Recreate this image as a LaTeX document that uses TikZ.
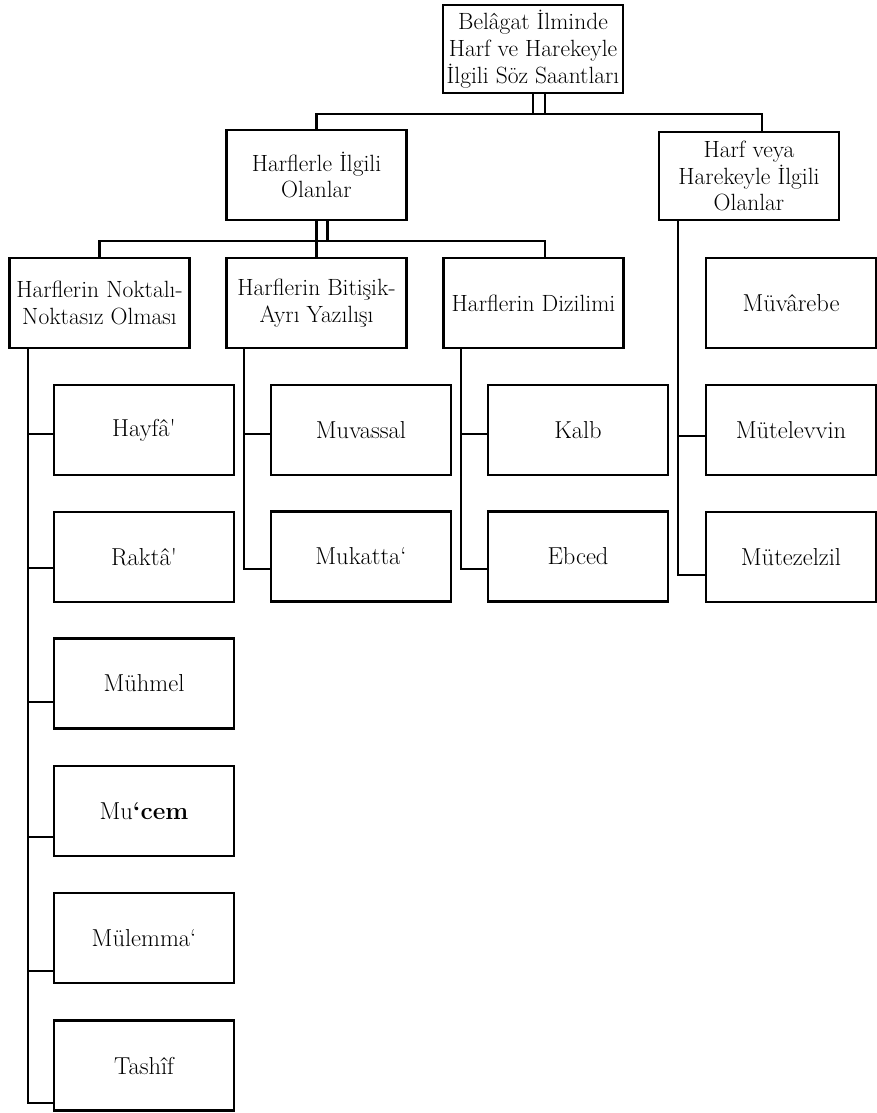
\documentclass[tikz,border=0pt]{standalone}
\usepackage{tikz}
\usetikzlibrary{positioning,calc}

\begin{document}
\begin{tikzpicture}[
    x=1pt, y=-1pt,
    box/.style={draw, line width=2.2pt, minimum width=180pt, minimum height=90pt, inner sep=1pt, align=center, fill=white, font=\fontsize{23.5}{26.8}\selectfont},
    leaf/.style={box, font=\fontsize{24.5}{27}\selectfont},
    rleaf/.style={leaf, minimum width=170pt},
    link/.style={line width=2.2pt}
]
\useasboundingbox (0,0) rectangle (877,1113);

% ===== ROOT =====
\node[box, minimum height=88pt] (root) at (533, 49) {Belâgat İlminde\\Harf ve Harekeyle\\İlgili Söz Saantları};

% ===== LEVEL 2 =====
\node[box] (harf) at (316.5, 175) {Harflerle İlgili\\Olanlar};
\node[box, minimum height=88pt] (hareke) at (749, 176) {Harf veya\\Harekeyle İlgili\\Olanlar};

% ===== LEVEL 3 =====
\node[box] (nokta) at (99.5, 303) {Harflerin Noktalı-\\Noktasız Olması};
\node[box] (bitisik) at (316.5, 303) {Harflerin Bitişik-\\Ayrı Yazılışı};
\node[box] (dizilim) at (533.5, 303) {Harflerin Dizilimi};

% ===== LEAVES: NOKTALI-NOKTASIZ =====
\node[leaf] (hayfa) at (144, 430) {Hayfâ\textquotesingle};
\node[leaf] (rakta) at (144, 557) {Raktâ\textquotesingle};
\node[leaf] (muhmel) at (144, 683.5) {Mühmel};
\node[leaf] (mucem) at (144, 811) {Mu\textbf{‘cem}};
\node[leaf] (mulemma) at (144, 938) {Mülemma‘};
\node[leaf] (tashif) at (144, 1065.5) {Tashîf};

% ===== LEAVES: BITISIK-AYRI =====
\node[leaf] (muvassal) at (361, 430) {Muvassal};
\node[leaf] (mukatta) at (361, 556.5) {Mukatta‘};

% ===== LEAVES: DIZILIM =====
\node[leaf] (kalb) at (578, 430) {Kalb};
\node[leaf] (ebced) at (578, 556.5) {Ebced};

% ===== LEAVES: HARF VEYA HAREKE =====
\node[rleaf] (muvarebe) at (791, 303) {Müvârebe};
\node[rleaf] (mutelevvin) at (791, 430) {Mütelevvin};
\node[rleaf] (mutezelzil) at (791, 557) {Mütezelzil};

% ===== CONNECTORS =====
\draw[link] (root.south) -- ++(0,20) -| ([xshift=13pt]hareke.north);
\draw[link] ([xshift=12pt]root.south) -- ++(0,20) -| (harf.north);

\draw[link] (harf.south) -- ++(0,20) -| ([xshift=11.5pt]dizilim.north);
\draw[link] ([xshift=11pt]harf.south) -- ++(0,20) -| (nokta.north);
\draw[link] (harf.south) -- (bitisik.north);

\coordinate (s1) at ([xshift=-71.5pt]nokta.south);
\coordinate (s2) at ([xshift=-72.5pt]bitisik.south);
\coordinate (s3) at ([xshift=-72.5pt]dizilim.south);
\coordinate (s4) at ([xshift=-71pt]hareke.south);

\foreach \n/\d in {hayfa/4, rakta/11, muhmel/18.5, mucem/26, mulemma/33, tashif/37.5}
  \draw[link] ([yshift=-\d pt]\n.west) -| (s1);
\foreach \n/\d in {muvassal/4, mukatta/12.5}
  \draw[link] ([yshift=-\d pt]\n.west) -| (s2);
\foreach \n/\d in {kalb/4, ebced/12.5}
  \draw[link] ([yshift=-\d pt]\n.west) -| (s3);
\foreach \n/\d in {mutelevvin/6, mutezelzil/18}
  \draw[link] ([yshift=-\d pt]\n.west) -| (s4);

\end{tikzpicture}
\end{document}
